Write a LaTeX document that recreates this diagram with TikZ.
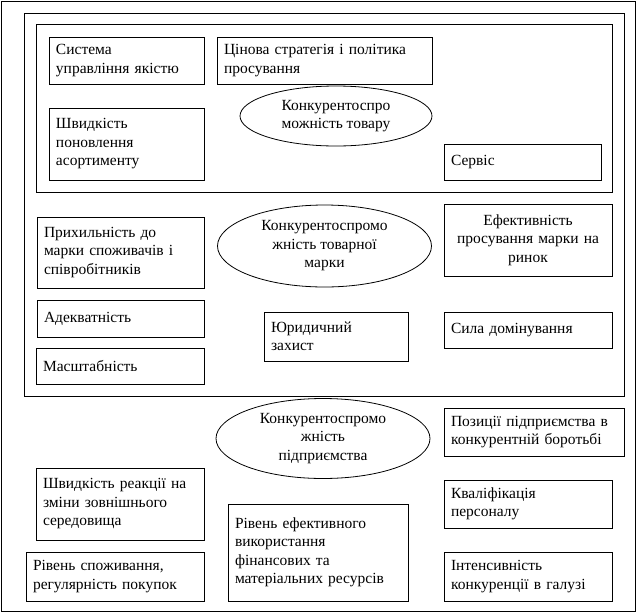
\documentclass[tikz,border=0pt]{standalone}
\usepackage{fontspec}
\setmainfont{Liberation Serif}
\usetikzlibrary{shapes.geometric}

\begin{document}
\begin{tikzpicture}[x=1pt,y=-1pt,line width=0.8pt,
	factor/.style={draw,rectangle,align=left,inner xsep=7pt,inner ysep=0pt,font=\fontsize{15.5}{18.5}\selectfont},
	level/.style={draw,ellipse,align=center,inner sep=0pt,font=\fontsize{15.5}{18.5}\selectfont}]
	\useasboundingbox (0,0) rectangle (638,614);
%
	\draw (1,1) rectangle (635,611);
	\draw (24,13) rectangle (624,396);
	\draw (36,24) rectangle (612,192);
%
	\node[factor,text width=141pt,minimum height=47pt] (sys) at (126.5,60.5) {Система\\управління якістю};
	\node[factor,text width=201pt,minimum height=47pt] (price) at (324.5,60.5) {Цінова стратегія і політика\\просування};
	\node[factor,text width=141pt,minimum height=72pt] (assort) at (126.5,144) {Швидкість\\поновлення\\асортименту};
	\node[factor,text width=143pt,minimum height=36pt] (serv) at (522.5,162) {Сервіс};
	\node[level,minimum width=192pt,minimum height=60pt] (goods) at (336,116) {Конкурентоспро\\можність товару};
%
	\node[factor,text width=153pt,minimum height=71pt] (loyal) at (120.5,252.5) {Прихильність до\\марки споживачів і\\співробітників};
	\node[factor,text width=153pt,minimum height=37pt] (adeq) at (120.5,318.5) {Адекватність};
	\node[factor,text width=154pt,minimum height=36pt] (scale) at (120,366) {Масштабність};
	\node[factor,text width=130pt,minimum height=49pt] (legal) at (336,336.5) {Юридичний\\захист};
	\node[factor,align=center,text width=154pt,minimum height=72pt] (promo) at (528,240) {Ефективність\\просування марки на\\ринок};
	\node[factor,text width=154pt,minimum height=36pt] (domin) at (528,330) {Сила домінування};
	\node[level,minimum width=214pt,minimum height=82pt] (brand) at (324.5,246) {Конкурентоспромо\\жність товарної\\марки};
%
	\node[level,minimum width=214pt,minimum height=80pt] (firm) at (323,438.5) {Конкурентоспромо\\жність\\підприємства};
	\node[factor,text width=154pt,minimum height=72pt] (react) at (120,504) {Швидкість реакції на\\зміни зовнішнього\\середовища};
	\node[factor,text width=164pt,minimum height=49pt] (consum) at (115,576.5) {Рівень споживання,\\регулярність покупок};
	\node[factor,text width=166pt,minimum height=97pt] (resour) at (318,552.5) {Рівень ефективного\\використання\\фінансових та\\матеріальних ресурсів};
	\node[factor,text width=166pt,minimum height=48pt] (posit) at (534,432) {Позиції підприємства в\\конкурентній боротьбі};
	\node[factor,text width=154pt,minimum height=48pt] (qual) at (528,504) {Кваліфікація\\персоналу};
	\node[factor,text width=154pt,minimum height=49pt] (intens) at (528,576.5) {Інтенсивність\\конкуренції в галузі};
\end{tikzpicture}
\end{document}
